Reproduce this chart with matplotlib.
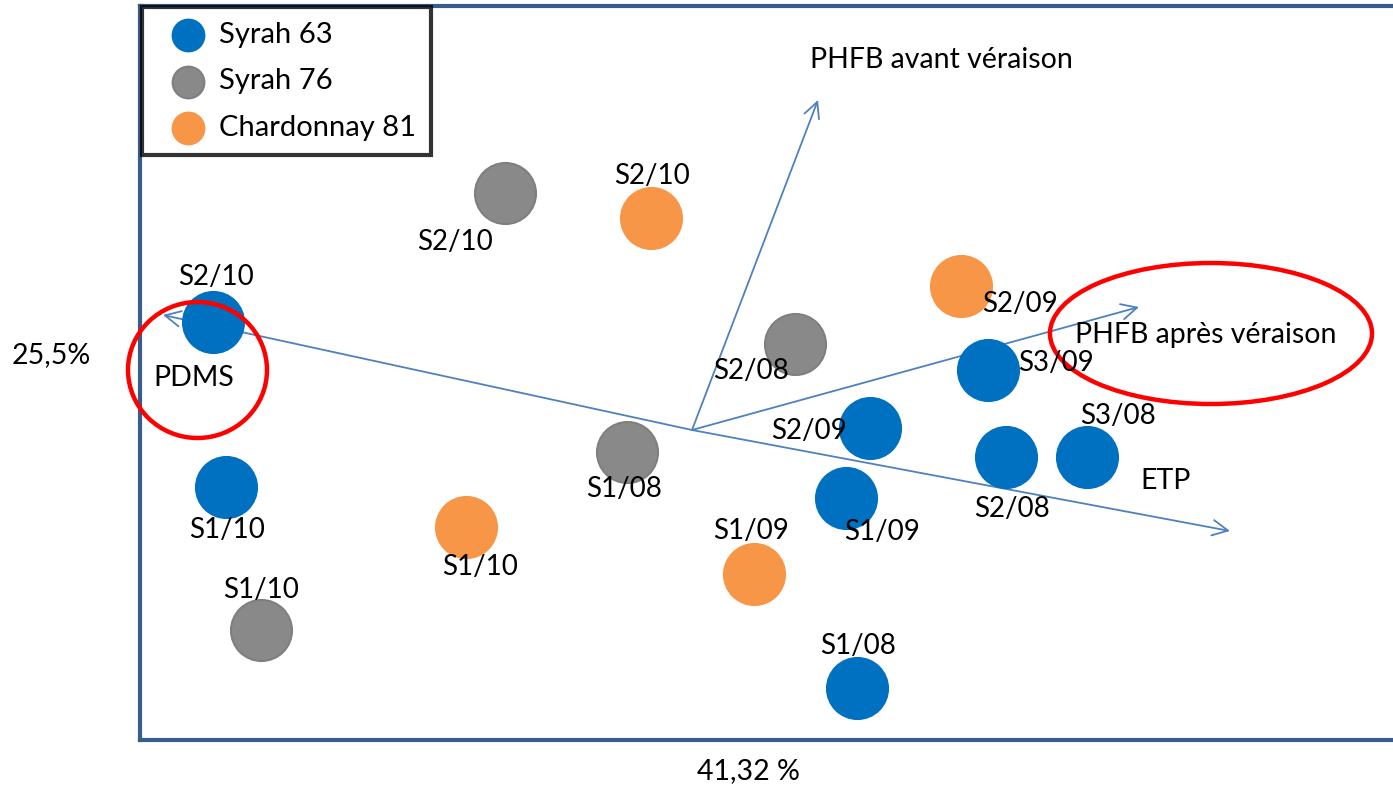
import numpy as np
import matplotlib
matplotlib.use("Agg")
import matplotlib.pyplot as plt
from matplotlib.patches import Ellipse

plt.rcParams["font.family"] = ["Lato", "DejaVu Sans"]

# ── données (coordonnées factorielles) ────────────────────────────────────────
GROUPES  = ["Syrah 63", "Syrah 76", "Chardonnay 81"]
COULEURS = ["#0070C0", "#898989", "#F79646"]
BORDS    = ["#0070C0", "#7F7F7F", "#F79646"]

syrah63_lab = ["S2/10", "S1/10", "S1/08", "S1/09", "S2/09", "S3/09", "S2/08", "S3/08"]
syrah63_x   = [-4.79, -4.66, 1.65, 1.54, 1.78, 2.96, 3.14, 3.95]
syrah63_y   = [1.08, -0.57, -2.58, -0.68, 0.02, 0.60, -0.27, -0.27]

syrah76_lab = ["S2/10", "S2/08", "S1/08", "S1/10"]
syrah76_x   = [-1.87, 1.03, -0.65, -4.31]
syrah76_y   = [2.37, 0.86, -0.22, -2.00]

chard81_lab = ["S2/10", "S2/09", "S1/10", "S1/09"]
chard81_x   = [-0.41, 2.69, -2.26, 0.62]
chard81_y   = [2.12, 1.44, -0.97, -1.44]

# décalage des étiquettes (pixels : dx vers la droite, dy vers le bas)
syrah63_off = [(3, -45), (1, 43), (1, -42), (36, 34), (-61, 3), (68, -7), (6, 52), (31, -41)]
syrah76_off = [(-50, 49), (-44, 27), (-3, 37), (0, -40)]
chard81_off = [(1, -42), (59, 18), (14, 40), (-3, -43)]

variables = ["PDMS", "PHFB avant véraison", "PHFB après véraison", "ETP"]
var_x     = [-5.29, 1.26, 4.47, 5.38]
var_y     = [1.15, 3.30, 1.23, -1.01]
var_lab_x = [-5.39, 1.18, 3.83, 4.48]
var_lab_y = [0.52, 3.70, 0.95, -0.51]

AXE1 = "41,32 %"
AXE2 = "25,5%"

# ── figure ───────────────────────────────────────────────────────────────────
W, H = 1393, 786
fig = plt.figure(figsize=(W / 100, H / 100), dpi=100)
ax = fig.add_axes([140 / W, 46 / H, (W - 140) / W, 734 / H])
ax.set_xlim(-5.52, 7.01)
ax.set_ylim(-3.10, 4.24)
ax.set_xticks([])
ax.set_yticks([])
for s in ["left", "top", "bottom"]:
    ax.spines[s].set_color("#385D8A")
    ax.spines[s].set_linewidth(3.0)
ax.spines["right"].set_visible(False)

# flèches des variables
for vx, vy in zip(var_x, var_y):
    ax.annotate("", xy=(vx, vy), xytext=(0, 0),
                arrowprops=dict(arrowstyle="->,head_length=0.7,head_width=0.35",
                                color="#4F81BD", lw=1.3, mutation_scale=16,
                                shrinkA=0, shrinkB=0), zorder=1)
for nom, lx, ly in zip(variables, var_lab_x, var_lab_y):
    ax.text(lx, ly, nom, fontsize=20.5, ha="left", va="center", zorder=5)

# individus
series = [(syrah63_x, syrah63_y, syrah63_lab, syrah63_off),
          (syrah76_x, syrah76_y, syrah76_lab, syrah76_off),
          (chard81_x, chard81_y, chard81_lab, chard81_off)]
handles = []
for (xs, ys, labs, offs), nom, c, e in zip(series, GROUPES, COULEURS, BORDS):
    h = ax.scatter(xs, ys, s=1930, color=c, edgecolors=e, linewidths=1.5,
                   zorder=3, label=nom)
    handles.append(h)
    for x, y, lab, (dx, dy) in zip(xs, ys, labs, offs):
        ax.annotate(lab, (x, y), xytext=(dx * 0.72, -dy * 0.72),
                    textcoords="offset points", fontsize=20,
                    ha="center", va="center", zorder=5)

# ellipses rouges
ax.add_patch(Ellipse((-4.945, 0.60), 1.39, 1.36, fill=False,
                     edgecolor="#FF0000", lw=3.2, zorder=4, clip_on=False))
ax.add_patch(Ellipse((5.19, 0.965), 3.22, 1.41, fill=False,
                     edgecolor="#FF0000", lw=3.2, zorder=4))

# légende
leg = ax.legend(handles=handles, loc="upper left", bbox_to_anchor=(0.0015, 0.998),
                borderaxespad=0, fontsize=21, markerscale=0.52, frameon=True,
                fancybox=False, edgecolor="black", handletextpad=0.0,
                labelspacing=0.7, borderpad=0.5, handlelength=2.15)
leg.get_frame().set_linewidth(3.0)
leg.set_zorder(6)

# titres des axes
fig.text(51 / W, 1 - 355 / H, AXE2, fontsize=20.5, ha="center", va="center")
fig.text(748 / W, 1 - 771 / H, AXE1, fontsize=20.5, ha="center", va="center")

fig.savefig("out.png", dpi=100)
